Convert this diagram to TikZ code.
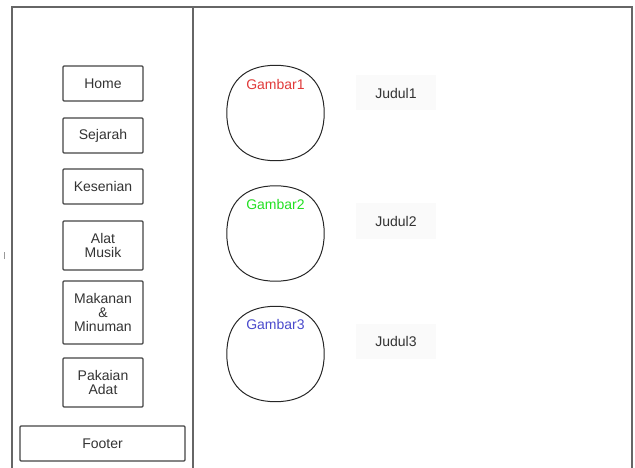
\documentclass[tikz,border=0pt]{standalone}
\usepackage{fontspec}
\setmainfont{Liberation Sans}
\usetikzlibrary{calc}
\definecolor{frame}{HTML}{666666}
\definecolor{boxc}{HTML}{444444}
\definecolor{txt}{HTML}{333333}
\definecolor{gred}{HTML}{E03A3A}
\definecolor{ggreen}{HTML}{22E022}
\definecolor{gblue}{HTML}{4A4ACC}
\definecolor{faint}{HTML}{FAFAFA}
\tikzset{
  menubox/.style={draw=boxc, line width=1.2pt, rounded corners=1pt, minimum width=80pt, align=center, text=txt, font=\fontsize{14}{14}\selectfont, inner sep=0pt},
  titlebox/.style={fill=faint, minimum width=80pt, minimum height=35pt, text=txt, font=\fontsize{14}{14}\selectfont, inner sep=0pt},
  picbox/.style={minimum width=97pt, minimum height=95pt, inner sep=0pt},
  piclabel/.style={font=\fontsize{14}{14}\selectfont, inner sep=0pt},
  squircle/.style={draw=black!85, line width=1pt}
}
\newcommand{\squirc}[1]{%
  \draw[squircle] (#1.west)
   .. controls ($(#1.west)!0.64!(#1.north west)$) and ($(#1.north)!0.64!(#1.north west)$) .. (#1.north)
   .. controls ($(#1.north)!0.64!(#1.north east)$) and ($(#1.east)!0.64!(#1.north east)$) .. (#1.east)
   .. controls ($(#1.east)!0.64!(#1.south east)$) and ($(#1.south)!0.64!(#1.south east)$) .. (#1.south)
   .. controls ($(#1.south)!0.64!(#1.south west)$) and ($(#1.west)!0.64!(#1.south west)$) .. (#1.west) -- cycle;}
\begin{document}
\begin{tikzpicture}[x=1pt,y=-1pt]
\useasboundingbox (0,0) rectangle (635,468);
% frame
\coordinate (tl) at (12,7);
\coordinate (tr) at (632,7);
\coordinate (bl) at (12,468);
\coordinate (br) at (632,468);
\coordinate (dt) at (193,7);
\coordinate (db) at (193,468);
\draw[frame, line width=1.6pt] (bl) -- (tl) -- (tr) -- (br);
\draw[frame, line width=1.6pt] (dt) -- (db);
\coordinate (m1) at (4,252);
\coordinate (m2) at (4,259);
\draw[black!40, line width=0.8pt] (m1) -- (m2);
% menu
\node[menubox, minimum height=35pt] (home) at (103,83.5) {Home};
\node[menubox, minimum height=35pt] (sejarah) at (103,135.5) {Sejarah};
\node[menubox, minimum height=35pt] (kesenian) at (103,186.5) {Kesenian};
\node[menubox, minimum height=49pt] (alat) at (103,245.5) {Alat\\Musik};
\node[menubox, minimum height=63pt] (makanan) at (103,312.5) {Makanan\\\&\\Minuman};
\node[menubox, minimum height=49pt] (pakaian) at (103,382.5) {Pakaian\\Adat};
\node[menubox, minimum width=165pt, minimum height=35pt] (footer) at (102.5,443.5) {Footer};
% pictures
\node[picbox] (g1) at (275.5,113) {};
\node[picbox] (g2) at (275.5,233.5) {};
\node[picbox] (g3) at (275.5,354) {};
\squirc{g1}
\squirc{g2}
\squirc{g3}
\node[piclabel, text=gred] (l1) at (275.5,84) {Gambar1};
\node[piclabel, text=ggreen] (l2) at (275.5,204) {Gambar2};
\node[piclabel, text=gblue] (l3) at (275.5,324) {Gambar3};
% titles
\node[titlebox] (j1) at (396,93) {Judul1};
\node[titlebox] (j2) at (396,221) {Judul2};
\node[titlebox] (j3) at (396,341) {Judul3};
\end{tikzpicture}
\end{document}
